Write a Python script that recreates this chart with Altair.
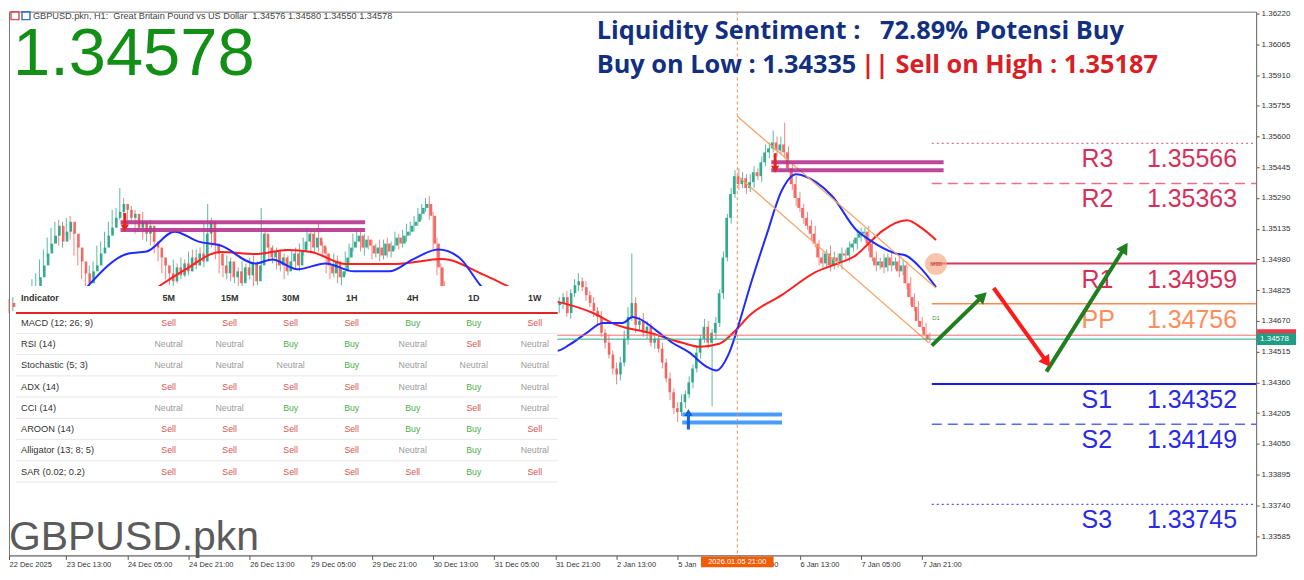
import math
import altair as alt
import pandas as pd

# ---------------- data ----------------
closes = [
    1.3474, 1.3476, 1.3471, 1.3477, 1.3474, 1.3479,
    1.3484, 1.3489, 1.3495, 1.3501, 1.3506,
    1.3510, 1.3515, 1.3507, 1.3512, 1.3517, 1.3511,
    1.3504, 1.3497, 1.3491, 1.3486, 1.3492,
    1.3495, 1.3501, 1.3504, 1.3510, 1.3514, 1.3519, 1.3522,
    1.3526, 1.3523,
    1.3519, 1.3521, 1.3514, 1.3517, 1.3511, 1.3515, 1.3507,
    1.3504, 1.3499, 1.3495, 1.3491, 1.3487, 1.3494, 1.3490,
    1.3496, 1.3492, 1.3499, 1.3495, 1.3501, 1.3497,
    1.3511, 1.3517, 1.3506,
    1.3501, 1.3495, 1.3491, 1.3497, 1.3489, 1.3492, 1.3486, 1.3494, 1.3490, 1.3496, 1.3487, 1.3495,
    1.3511, 1.3504,
    1.3499, 1.3502, 1.3495, 1.3499, 1.3492, 1.3497, 1.3501, 1.3495, 1.3502,
    1.3507, 1.3511, 1.3504, 1.3509, 1.3505, 1.3501,
    1.3495, 1.3491, 1.3497, 1.3489, 1.3492, 1.3499,
    1.3504, 1.3507, 1.3510, 1.3504, 1.3508, 1.3505,
    1.3501, 1.3504, 1.3500, 1.3506, 1.3502, 1.3505, 1.3509, 1.3506, 1.3510, 1.3512, 1.3515, 1.3517,
    1.3521, 1.3524, 1.3526, 1.3520,
    1.3506, 1.3494, 1.3484,
    1.3479, 1.3476, 1.3471, 1.3474, 1.3469, 1.3466, 1.3470, 1.3464, 1.3467, 1.3461,
    1.3465, 1.3469, 1.3472, 1.3470, 1.3474, 1.3467, 1.3464, 1.3468, 1.3471, 1.3474,
    1.3477, 1.3474, 1.3476, 1.3479, 1.3475, 1.3471, 1.3474, 1.3476, 1.3477, 1.3475,
    1.3476, 1.3479, 1.3471,
    1.3481, 1.3485, 1.3487, 1.3484,
    1.3480, 1.3476, 1.3472, 1.3469,
    1.3461, 1.3456, 1.3450, 1.3443, 1.3440, 1.3446,
    1.3458, 1.3469, 1.3476, 1.3465,
    1.3467, 1.3461, 1.3464, 1.3456, 1.3458, 1.3453,
    1.3446, 1.3438, 1.3431, 1.3423, 1.3421,
    1.3426, 1.3430, 1.3436, 1.3443, 1.3451, 1.3458,
    1.3464, 1.3456, 1.3461, 1.3466,
    1.3481, 1.3499, 1.3519, 1.3531, 1.3540,
    1.3536, 1.3539, 1.3534, 1.3537, 1.3542, 1.3540,
    1.3547, 1.3552, 1.3554, 1.3557, 1.3553, 1.3556, 1.3552,
    1.3544, 1.3536, 1.3529, 1.3524, 1.3519, 1.3515, 1.3511,
    1.3506, 1.3499, 1.3496, 1.3501, 1.3495, 1.3499,
    1.3497, 1.3501, 1.3500, 1.3504, 1.3506, 1.3509, 1.3511, 1.3512,
    1.3506, 1.3499, 1.3495, 1.3497,
    1.3494, 1.3499, 1.3495, 1.3497, 1.3492, 1.3495,
    1.3486, 1.3479, 1.3474, 1.3467, 1.3464, 1.3460, 1.34578,
]
first_open = 1.3476

upper_wick_pips = [
    2, 3, 1, 2, 3, 2, 4, 2, 3, 2,  3, 4, 2, 3, 5, 2, 3, 2, 1, 3,
    2, 3, 2, 4, 3, 2, 3, 4, 2, 8,  3, 2, 4, 2, 3, 5, 2, 3, 2, 1,
    2, 3, 2, 4, 2, 3, 2, 3, 4, 2,  3, 5, 9, 2, 3, 2, 1, 3, 2, 4,
    2, 3, 2, 3, 4, 2, 13, 3, 2, 3, 2, 4, 2, 3, 2, 3, 4, 2, 3, 2,
    3, 7, 2, 3, 2, 4, 3, 2, 3, 2,  4, 3, 2, 3, 2, 3, 2, 4, 2, 3,
    2, 3, 2, 3, 4, 2, 3, 3, 2, 3,  4, 2, 3, 2, 3, 2, 4, 2, 3, 2,
    3, 2, 4, 3, 2, 3, 2, 3, 4, 2,  3, 2, 3, 2, 4, 2, 3, 2, 3, 2,
    2, 3, 2, 4, 3, 2, 3, 2, 3, 4,  2, 3, 2, 3, 2, 3, 2, 4, 2, 3,
    3, 4, 5, 25, 3, 2, 4, 3, 2, 3, 2, 3, 2, 3, 2, 3, 4, 2, 3, 2,
    3, 2, 4, 3, 2, 3, 2, 3, 2, 3,  3, 4, 3, 2, 4, 3, 2, 3, 4, 3,
    6, 3, 4, 11, 3, 2, 4, 3, 2, 3, 3, 4, 2, 3, 2, 4, 3, 2, 3, 2,
    3, 2, 4, 3, 2, 3, 2, 3, 2, 4,  2, 3, 2, 4, 3, 2, 3, 2, 3, 2,
    2, 1,
]
lower_wick_pips = [
    3, 2, 4, 2, 3, 2, 3, 2, 1, 3,  2, 3, 4, 2, 3, 2, 3, 4, 2, 3,
    4, 2, 3, 2, 3, 2, 2, 3, 2, 4,  3, 4, 2, 3, 2, 3, 4, 2, 3, 2,
    4, 3, 2, 3, 4, 2, 3, 2, 3, 2,  2, 3, 4, 2, 3, 4, 2, 3, 2, 3,
    4, 2, 3, 2, 3, 2, 3, 4, 2, 3,  2, 3, 4, 2, 3, 2, 3, 2, 4, 3,
    2, 3, 2, 4, 3, 2, 3, 4, 2, 3,  2, 3, 2, 4, 2, 3, 2, 3, 2, 3,
    3, 2, 3, 2, 3, 2, 3, 2, 3, 2,  2, 3, 4, 4, 2, 3, 2, 3, 4, 2,
    3, 2, 3, 4, 2, 3, 2, 3, 2, 3,  2, 3, 2, 3, 2, 4, 2, 3, 2, 3,
    3, 2, 3, 2, 4, 3, 2, 3, 2, 3,  2, 3, 2, 3, 4, 2, 3, 2, 3, 5,
    3, 2, 3, 2, 4, 3, 2, 3, 2, 3,  2, 3, 2, 4, 3, 5, 2, 3, 2, 3,
    2, 3, 2, 3, 32, 3, 2, 3, 2, 3, 2, 3, 2, 3, 2, 3, 2, 3, 2, 3,
    2, 3, 2, 3, 2, 3, 4, 2, 3, 2,  3, 2, 4, 3, 2, 3, 2, 3, 4, 2,
    3, 2, 3, 2, 3, 4, 2, 3, 2, 3,  2, 3, 2, 3, 2, 3, 4, 2, 3, 2,
    3, 2,
]

# moving averages (bar index, price)
blue_ma_idx = [20.4, 31.3, 36.0, 43.3, 49.6, 55.4, 64.5, 68.9, 75.5, 82.8, 90.3, 99.5, 105.7, 112.3,
               117.8, 123.8, 131.1, 137.7, 143.6, 146.7, 151.2, 155.4, 160.6, 163.2, 165.0, 169.5,
               173.6, 178.1, 182.5, 185.1, 188.5, 191.1, 193.7, 198.2, 202.3, 206.0, 211.2, 215.4,
               221.7, 225.1, 232.1, 234.7, 238.9, 242.6]
blue_ma_px = [1.3484, 1.3501, 1.3502, 1.3512, 1.3507, 1.3505, 1.3496, 1.3498, 1.3493, 1.3496, 1.3492,
              1.3492, 1.3498, 1.3503, 1.3499, 1.3484, 1.3474, 1.3466, 1.3452, 1.3455, 1.3461, 1.3466,
              1.3466, 1.3469, 1.3468, 1.3462, 1.3456, 1.3451, 1.3444, 1.3442, 1.3451, 1.3466, 1.3483,
              1.3510, 1.3533, 1.3541, 1.3537, 1.3530, 1.3513, 1.3508, 1.3501, 1.3500, 1.3493, 1.3484]
red_ma_idx = [38.6, 46.0, 55.4, 64.5, 72.8, 79.1, 88.3, 101.3, 113.3, 124.3, 131.6, 137.6, 143.6,
              152.7, 159.0, 167.6, 176.2, 180.7, 185.9, 190.3, 193.7, 202.3, 211.2, 217.2, 221.7,
              225.1, 228.5, 235.0, 238.9, 242.6]
red_ma_px = [1.34836, 1.34927, 1.35018, 1.35007, 1.35028, 1.35018, 1.34957, 1.34957, 1.34982,
             1.34902, 1.34836, 1.34786, 1.34766, 1.34711, 1.34650, 1.34610, 1.34560, 1.34540,
             1.34555, 1.34625, 1.34696, 1.34801, 1.34917, 1.34962, 1.35002, 1.35063, 1.35123,
             1.35178, 1.35138, 1.35078]

# regression channel
channel_x1 = [190.6, 191.1]
channel_y1 = [1.35702, 1.35395]
channel_x2 = [242.6, 240.7]
channel_y2 = [1.34836, 1.34560]

# supply / demand zones: start idx, end idx, upper line, lower line
zone_kind = ["supply", "supply", "demand"]
zone_x1 = [29.2, 199.5, 176.2]
zone_x2 = [93.2, 244.6, 202.3]
zone_hi = [1.35168, 1.35470, 1.34198]
zone_lo = [1.35128, 1.35430, 1.34157]
zone_arrow_x = [30.3, 200.5, 177.8]
zone_arrow_from = [1.35214, 1.35516, 1.34122]
zone_arrow_to = [1.35138, 1.35435, 1.34208]

# pivots
pivot_names = ["R3", "R2", "R1", "PP", "S1", "S2", "S3"]
pivot_values = [1.35566, 1.35363, 1.34959, 1.34756, 1.34352, 1.34149, 1.33745]

bid_price = 1.34578
ask_price = 1.34598
crosshair_idx = 190.6
crosshair_label = "2026.01.05 21:00"

# projected path arrows
path_x1 = [241.5, 257.7, 271.5]
path_y1 = [1.34545, 1.34836, 1.34414]
path_x2 = [255.4, 272.1, 292.4]
path_y2 = [1.34806, 1.34449, 1.35053]
path_dir = ["up", "down", "up"]

# time axis
tick_idx = [0, 15, 31, 47, 63, 79, 95, 111, 127, 143, 159, 175, 191, 207, 223, 239]
tick_lbl = ["22 Dec 2025", "23 Dec 13:00", "24 Dec 05:00", "24 Dec 21:00", "26 Dec 13:00",
            "29 Dec 05:00", "29 Dec 21:00", "30 Dec 13:00", "31 Dec 05:00", "31 Dec 21:00",
            "2 Jan 13:00", "5 Jan", "5 Jan 21:00", "6 Jan 13:00", "7 Jan 05:00", "7 Jan 21:00"]
price_ticks = [1.36220, 1.36065, 1.35910, 1.35755, 1.35600, 1.35445, 1.35290, 1.35135, 1.34980,
               1.34825, 1.34670, 1.34515, 1.34360, 1.34205, 1.34050, 1.33895, 1.33740, 1.33585]

# indicator table
tf_cols = ["5M", "15M", "30M", "1H", "4H", "1D", "1W"]
indicators = ["MACD (12; 26; 9)", "RSI (14)", "Stochastic (5; 3)", "ADX (14)", "CCI (14)",
              "AROON (14)", "Alligator (13; 8; 5)", "SAR (0.02; 0.2)"]
signals = [
    ["Sell", "Sell", "Sell", "Sell", "Buy", "Buy", "Sell"],
    ["Neutral", "Neutral", "Buy", "Buy", "Neutral", "Sell", "Neutral"],
    ["Neutral", "Neutral", "Neutral", "Buy", "Neutral", "Neutral", "Neutral"],
    ["Sell", "Sell", "Sell", "Sell", "Neutral", "Buy", "Neutral"],
    ["Neutral", "Neutral", "Buy", "Buy", "Buy", "Sell", "Neutral"],
    ["Sell", "Sell", "Sell", "Sell", "Buy", "Buy", "Sell"],
    ["Sell", "Sell", "Sell", "Sell", "Neutral", "Buy", "Neutral"],
    ["Sell", "Sell", "Sell", "Sell", "Sell", "Buy", "Sell"],
]

# ---------------- layout ----------------
W, H = 1250, 545
PX_PER_BAR = 3.83
X_MAX = W / PX_PER_BAR
Y_HI = 1.36230
Y_LO = Y_HI - H / 19871.0
px_per_price = H / (Y_HI - Y_LO)

GREEN = "#22a384"
RED = "#f25a55"
xs = alt.Scale(domain=[0, X_MAX], nice=False, zero=False)
ys = alt.Scale(domain=[Y_LO, Y_HI], nice=False, zero=False)


def X(f, **kw):
    return alt.X(f, type="quantitative", scale=xs, axis=None, **kw)


def Y(f, **kw):
    return alt.Y(f, type="quantitative", scale=ys, axis=None, **kw)


def X2(f):
    return alt.X2(f)


def Y2(f):
    return alt.Y2(f)


n = len(closes)
opens = [first_open] + closes[:-1]
candles = pd.DataFrame({
    "i": list(range(n)),
    "open": opens,
    "close": closes,
    "high": [max(o, c) + u / 10000 for o, c, u in zip(opens, closes, upper_wick_pips)],
    "low": [min(o, c) - d / 10000 for o, c, d in zip(opens, closes, lower_wick_pips)],
})
cand_color = alt.condition("datum.close >= datum.open", alt.value(GREEN), alt.value(RED))

label_expr = ("[" + ",".join("'%s'" % s for s in tick_lbl) + "][indexof([" +
              ",".join(str(v) for v in tick_idx) + "], datum.value)]")

wicks = alt.Chart(candles).mark_rule(strokeWidth=1, opacity=0.75).encode(
    x=alt.X("i:Q", scale=xs, axis=alt.Axis(
        values=tick_idx, labelExpr=label_expr, orient="bottom", title=None, grid=False,
        tickSize=4, labelAlign="left", labelPadding=1, labelFontSize=7.5, labelColor="#333",
        labelFont="Liberation Sans", domainColor="#777", tickColor="#555", labelOverlap=False,
        labelFlush=False)),
    y=alt.Y("low:Q", scale=ys, axis=alt.Axis(
        values=price_ticks, format=".5f", orient="right", title=None, grid=False, tickSize=3,
        labelPadding=2, labelFontSize=8, labelColor="#333", labelFont="Liberation Sans",
        domainColor="#777", tickColor="#555", labelOverlap=False, labelFlush=False)),
    y2="high:Q",
    color=cand_color,
)
bodies = alt.Chart(candles).mark_bar(size=2.6, opacity=0.9).encode(
    x=X("i"), y=Y("open"), y2=Y2("close"), color=cand_color)

red_ma = alt.Chart(pd.DataFrame({"i": red_ma_idx, "p": red_ma_px})).mark_line(
    color="#ff1f1f", strokeWidth=2, interpolate="monotone").encode(x=X("i"), y=Y("p"))
blue_ma = alt.Chart(pd.DataFrame({"i": blue_ma_idx, "p": blue_ma_px})).mark_line(
    color="#1f2bff", strokeWidth=2, interpolate="monotone").encode(x=X("i"), y=Y("p"))

channel = alt.Chart(pd.DataFrame({"x1": channel_x1, "y1": channel_y1, "x2": channel_x2,
                                  "y2": channel_y2})).mark_rule(
    color="#f5a366", strokeWidth=1.2).encode(x=X("x1"), y=Y("y1"), x2=X2("x2"), y2=Y2("y2"))

zone_rows = []
for k, a, b, hi, lo in zip(zone_kind, zone_x1, zone_x2, zone_hi, zone_lo):
    c = "#b7338f" if k == "supply" else "#3392ff"
    zone_rows += [{"x1": a, "x2": b, "p": hi, "c": c}, {"x1": a, "x2": b, "p": lo, "c": c}]
zones = alt.Chart(pd.DataFrame(zone_rows)).mark_rule(strokeWidth=4, opacity=0.9).encode(
    x=X("x1"), x2=X2("x2"), y=Y("p"), color=alt.Color("c:N", scale=None))

za = pd.DataFrame({"x": zone_arrow_x, "p1": zone_arrow_from, "p2": zone_arrow_to,
                   "c": ["#e8231f" if k == "supply" else "#1565d8" for k in zone_kind],
                   "shape": ["triangle-down" if k == "supply" else "triangle-up" for k in zone_kind]})
zone_shaft = alt.Chart(za).mark_rule(strokeWidth=3).encode(
    x=X("x"), y=Y("p1"), y2=Y2("p2"), color=alt.Color("c:N", scale=None))
zone_head = alt.Chart(za).mark_point(filled=True, size=70, opacity=1).encode(
    x=X("x"), y=Y("p2"), color=alt.Color("c:N", scale=None),
    shape=alt.Shape("shape:N", scale=None))

crosshair = alt.Chart(pd.DataFrame({"x": [crosshair_idx]})).mark_rule(
    color="#f08a4b", strokeDash=[3, 3], strokeWidth=1).encode(x=X("x"))

# ---- indicator table (screen-anchored panel) ----
col_sc = alt.Scale(type="point", domain=tf_cols, range=[160, 527], padding=0)
row_sc = alt.Scale(type="point", domain=indicators, range=[312, 461], padding=0)
panel = alt.Chart(pd.DataFrame({"a": [0]})).mark_rect(color="white").encode(
    x=alt.value(7), x2=alt.value(550), y=alt.value(275), y2=alt.value(479))
header_line = alt.Chart(pd.DataFrame({"a": [0]})).mark_rule(color="#e32424", strokeWidth=2).encode(
    x=alt.value(7), x2=alt.value(550), y=alt.value(302))
row_df = pd.DataFrame({"row": indicators})
row_lines = alt.Chart(row_df).mark_rule(color="#e8e8e8", strokeWidth=1, yOffset=10.5).encode(
    x=alt.value(7), x2=alt.value(550), y=alt.Y("row:N", scale=row_sc, axis=None))
hdr = alt.Chart(pd.DataFrame({"col": tf_cols})).mark_text(
    fontSize=9, fontWeight="bold", color="#333", font="Liberation Sans").encode(
    x=alt.X("col:N", scale=col_sc, axis=None), y=alt.value(287), text="col:N")
hdr_name = alt.Chart(pd.DataFrame({"t": ["Indicator"]})).mark_text(
    fontSize=9, fontWeight="bold", color="#333", align="left", font="Liberation Sans").encode(
    x=alt.value(12), y=alt.value(287), text="t:N")
names = alt.Chart(row_df).mark_text(fontSize=9.3, color="#333", align="left",
                                    font="Liberation Sans").encode(
    x=alt.value(12), y=alt.Y("row:N", scale=row_sc, axis=None), text="row:N")
cell_rows = [{"row": ind, "col": c, "sig": s}
             for ind, sigs in zip(indicators, signals) for c, s in zip(tf_cols, sigs)]
cells = alt.Chart(pd.DataFrame(cell_rows)).mark_text(fontSize=8.8, font="Liberation Sans").encode(
    x=alt.X("col:N", scale=col_sc, axis=None), y=alt.Y("row:N", scale=row_sc, axis=None),
    text="sig:N",
    color=alt.Color("sig:N", scale=alt.Scale(domain=["Sell", "Buy", "Neutral"],
                                             range=["#d9534f", "#4cae4c", "#9a9a9a"]), legend=None))

# ---- pivots ----
pivot_style = {
    "R3": ("#e8708a", [2, 3], 1.2, "#d6305a"),
    "R2": ("#e8708a", [10, 6], 1.5, "#d6305a"),
    "R1": ("#d9385e", None, 2, "#d6305a"),
    "PP": ("#ff8a50", None, 1.5, "#ff8c5a"),
    "S1": ("#1a1ae6", None, 2, "#2a2ae6"),
    "S2": ("#5a6af0", [10, 6], 1.5, "#2a2ae6"),
    "S3": ("#4a5af0", [2, 3], 1.2, "#2a2ae6"),
}
pivot_layers = []
for name, val in zip(pivot_names, pivot_values):
    col, dash, sw, tcol = pivot_style[name]
    df = pd.DataFrame({"x1": [241.5], "x2": [X_MAX], "p": [val], "name": [name],
                       "v": ["%.5f" % val], "xl": [280.7], "xv": [321.4]})
    kw = {"color": col, "strokeWidth": sw}
    if dash:
        kw["strokeDash"] = dash
    base = alt.Chart(df)
    pivot_layers.append(base.mark_rule(**kw).encode(x=X("x1"), x2=X2("x2"), y=Y("p")))
    pivot_layers.append(base.mark_text(fontSize=25, color=tcol, align="left", baseline="middle",
                                       dy=16, font="Liberation Sans").encode(
        x=X("xl"), y=Y("p"), text="name:N"))
    pivot_layers.append(base.mark_text(fontSize=25, color=tcol, align="right", baseline="middle",
                                       dy=16, font="Liberation Sans").encode(
        x=X("xv"), y=Y("p"), text="v:N"))

# ---- current price lines & tags ----
price_lines = alt.Chart(pd.DataFrame({"x1": [143.5, 143.5], "x2": [X_MAX, X_MAX],
                                      "p": [ask_price, bid_price],
                                      "c": ["#f26d6d", "#2aa891"]})).mark_rule(strokeWidth=1).encode(
    x=X("x1"), x2=X2("x2"), y=Y("p"), color=alt.Color("c:N", scale=None))
tag_df = pd.DataFrame({"p": [ask_price, bid_price], "c": ["#f23645", "#1f9e85"],
                       "t": ["%.5f" % ask_price, "%.5f" % bid_price]})
tag_df["top"] = tag_df["p"] + 0.0003
tag_df["bot"] = tag_df["p"] - 0.0003
tags = alt.Chart(tag_df).mark_rect().encode(
    x=alt.value(W + 1), x2=alt.value(W + 40), y=Y("top"), y2=Y2("bot"),
    color=alt.Color("c:N", scale=None))
tag_text = alt.Chart(tag_df.iloc[[1]]).mark_text(fontSize=8, color="white", align="left",
                                                 font="Liberation Sans").encode(
    x=alt.value(W + 4), y=Y("p"), text="t:N")

# ---- projected path arrows ----
pa = pd.DataFrame({"x1": path_x1, "y1": path_y1, "x2": path_x2, "y2": path_y2,
                   "c": ["#1f7f1f" if d == "up" else "#ff1a1a" for d in path_dir]})
angs, hx, hy = [], [], []
for a, b, c, d in zip(path_x1, path_y1, path_x2, path_y2):
    dxp = (c - a) * PX_PER_BAR
    dyp = (d - b) * px_per_price
    ang = math.degrees(math.atan2(dxp, dyp)) % 360
    L = math.hypot(dxp, dyp)
    back = 5.0 / L
    angs.append(ang)
    hx.append(c - (c - a) * back)
    hy.append(d - (d - b) * back)
pa["ang"] = angs
pa["hx"] = hx
pa["hy"] = hy
path_shaft = alt.Chart(pa).mark_rule(strokeWidth=4).encode(
    x=X("x1"), y=Y("y1"), x2=X2("hx"), y2=Y2("hy"), color=alt.Color("c:N", scale=None))
path_head = alt.Chart(pa).mark_point(shape="triangle", filled=True, size=170, opacity=1).encode(
    x=X("hx"), y=Y("hy"), angle=alt.Angle("ang:Q", scale=None), color=alt.Color("c:N", scale=None))

marker = alt.Chart(pd.DataFrame({"x": [242.6], "p": [1.34957]})).mark_circle(
    size=480, color="#f4a582", opacity=0.65).encode(x=X("x"), y=Y("p"))
marker_txt = alt.Chart(pd.DataFrame({"x": [242.6, 242.6], "p": [1.34957, 1.34686],
                                     "t": ["M30", "D1"], "c": ["#c0392b", "#3c9a3c"]})).mark_text(
    fontSize=6, font="Liberation Sans").encode(x=X("x"), y=Y("p"), text="t:N",
                                               color=alt.Color("c:N", scale=None))

# crosshair time label on the axis
ch_box = alt.Chart(pd.DataFrame({"x1": [crosshair_idx - 9.5], "x2": [crosshair_idx + 9.5]})).mark_rect(
    color="#f25c05").encode(x=X("x1"), x2=X2("x2"), y=alt.value(H + 1), y2=alt.value(H + 12))
ch_txt = alt.Chart(pd.DataFrame({"x": [crosshair_idx], "t": [crosshair_label]})).mark_text(
    fontSize=7.5, color="white", baseline="middle", font="Liberation Sans").encode(
    x=X("x"), y=alt.value(H + 6.5), text="t:N")

# ---- screen texts ----
def stext(t, x, y, **kw):
    return alt.Chart(pd.DataFrame({"t": [t]})).mark_text(**kw).encode(
        x=alt.value(x), y=alt.value(y), text="t:N")


NB = "\u00a0"
texts = [
    stext("GBPUSD.pkn, H1:" + NB * 2 + "Great Britain Pound vs US Dollar" + NB * 2 +
          "1.34576 1.34580 1.34550 1.34578", 24, 4, fontSize=9.2, color="#444", align="left",
          baseline="middle", font="Liberation Sans"),
    stext("1.34578", 4, 64, fontSize=67, color="#138f17", align="left", baseline="alphabetic",
          font="Liberation Sans"),
    stext("GBPUSD.pkn", 0, 540, fontSize=41, color="#5b5b5b", align="left", baseline="alphabetic",
          font="Liberation Sans"),
    stext("Liquidity Sentiment :" + NB * 3 + "72.89% Potensi Buy", 589, 27, fontSize=25.4,
          fontWeight="bold", color="#12307f", align="left", baseline="alphabetic", font="Open Sans"),
    stext("Buy on Low : 1.34335", 589, 61, fontSize=25.4, fontWeight="bold", color="#12307f",
          align="left", baseline="alphabetic", font="Open Sans"),
    stext("|| Sell on High : 1.35187", 854, 61, fontSize=25.4, fontWeight="bold", color="#d81f26",
          align="left", baseline="alphabetic", font="Open Sans"),
]
icons = alt.Chart(pd.DataFrame({"x1": [2, 13], "x2": [10, 21], "c": ["#e05050", "#3a6fd0"]})).mark_rect(
    filled=False, strokeWidth=1.5).encode(x=alt.X("x1:Q", scale=alt.Scale(domain=[0, W], range=[0, W]),
                                                  axis=None),
                                          x2="x2:Q", y=alt.value(0), y2=alt.value(8),
                                          stroke=alt.Color("c:N", scale=None))

layers = ([wicks, bodies, red_ma, blue_ma, channel, zones, zone_shaft, zone_head, crosshair,
           panel, header_line, row_lines, hdr, hdr_name, names, cells] + pivot_layers +
          [price_lines, tags, tag_text, path_shaft, path_head, marker, marker_txt, ch_box, ch_txt,
           icons] + texts)

chart = alt.layer(*layers).resolve_scale(
    x="independent", y="independent", color="independent", shape="independent",
    stroke="independent", angle="independent"
).properties(width=W, height=H, padding=0, background="white").configure_view(
    stroke="#777", strokeWidth=1)

chart.save("out.html", embed_options={"renderer": "svg", "actions": False})
